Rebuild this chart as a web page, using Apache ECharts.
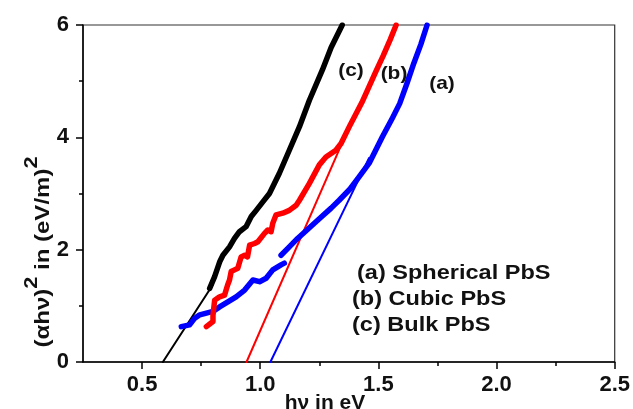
<!DOCTYPE html>
<html>
<head>
<meta charset="utf-8">
<script src="https://cdn.jsdelivr.net/npm/echarts@6/dist/echarts.min.js"></script>
<style>
html,body{margin:0;padding:0;background:#fff;}
#chart{width:633px;height:409px;}
</style>
</head>
<body>
<div id="chart"></div>
<script>
// ---- data ----
const xMajorTicks = [0.5, 1.0, 1.5, 2.0, 2.5];
const xMinorTicks = [0.75, 1.25, 1.75, 2.25];

const bulkData = [[0.786,1.31],[0.807,1.52],[0.828,1.78],[0.842,1.90],[0.870,2.05],[0.891,2.20],[0.912,2.32],[0.940,2.41],[0.962,2.59],[0.983,2.70],[1.011,2.85],[1.039,3.00],[1.081,3.36],[1.123,3.77],[1.166,4.19],[1.208,4.66],[1.263,5.20],[1.300,5.60],[1.347,6.00]];
const cubicData = [[0.772,0.63],[0.800,0.72],[0.800,0.83],[0.807,1.10],[0.828,1.16],[0.849,1.19],[0.862,1.37],[0.870,1.46],[0.877,1.61],[0.891,1.64],[0.905,1.67],[0.919,1.87],[0.934,1.90],[0.946,1.87],[0.955,2.08],[0.976,2.11],[0.990,2.14],[1.018,2.29],[1.032,2.35],[1.046,2.32],[1.053,2.47],[1.067,2.62],[1.095,2.65],[1.123,2.70],[1.152,2.79],[1.166,2.88],[1.208,3.18],[1.250,3.51],[1.278,3.65],[1.320,3.77],[1.342,3.89],[1.377,4.19],[1.430,4.62],[1.460,4.90],[1.490,5.18],[1.520,5.45],[1.550,5.74],[1.575,6.00]];
const sphericalLow = [[0.666,0.63],[0.701,0.66],[0.723,0.78],[0.744,0.84],[0.772,0.87],[0.800,0.90],[0.828,0.98],[0.863,1.07],[0.898,1.16],[0.934,1.28],[0.969,1.46],[0.997,1.43],[1.025,1.49],[1.053,1.64],[1.088,1.73],[1.102,1.76]];
const sphericalHigh = [[1.088,1.90],[1.123,2.05],[1.158,2.20],[1.200,2.36],[1.250,2.55],[1.300,2.74],[1.334,2.88],[1.380,3.08],[1.419,3.30],[1.461,3.54],[1.517,4.01],[1.560,4.35],[1.590,4.60],[1.620,4.95],[1.650,5.32],[1.680,5.66],[1.706,6.00]];

const bulkFit = [[0.588,0],[0.800,1.38]];
const cubicFit = [[0.942,0],[1.360,4.03]];
const sphericalFit = [[1.043,0],[1.460,3.63]];

const BLACK = '#000000', RED = '#ff0000', BLUE = '#0000ff';
const FONT = 'Liberation Sans, Arial, sans-serif';

function line(data, color, width, z) {
  return {type:'line', data:data, showSymbol:false, symbol:'none', clip:true, z:z,
    lineStyle:{color:color, width:width, join:'round', cap:'round'}, itemStyle:{color:color}};
}

const chart = echarts.init(document.getElementById('chart'), null, {renderer:'canvas'});
chart.setOption({
  animation:false,
  backgroundColor:'#fff',
  grid:{left:83, top:25, right:17, bottom:47, show:true, borderColor:'#333', borderWidth:1.2},
  xAxis:[{
    type:'value', min:0.25, max:2.5,
    axisLine:{show:true, lineStyle:{color:'#000', width:1.5}},
    axisTick:{show:true, customValues:xMajorTicks, length:7, lineStyle:{color:'#000', width:1.5}},
    axisLabel:{show:true, customValues:xMajorTicks, margin:12, fontSize:22, fontWeight:'bold', color:'#111', fontFamily:FONT,
      formatter:v => Number(v).toFixed(1)},
    splitLine:{show:false}
  },{
    type:'value', min:0.25, max:2.5, gridIndex:0, position:'bottom',
    axisLine:{show:false},
    axisTick:{show:true, customValues:xMinorTicks, length:4, lineStyle:{color:'#000', width:1.5}},
    axisLabel:{show:false},
    splitLine:{show:false}
  }],
  yAxis:{
    type:'value', min:0, max:6, interval:2,
    axisLine:{show:true, lineStyle:{color:'#000', width:1.5}},
    axisTick:{show:true, length:7, lineStyle:{color:'#000', width:1.5}},
    minorTick:{show:true, splitNumber:2, length:4, lineStyle:{color:'#000', width:1.5}},
    axisLabel:{margin:14, fontSize:22, fontWeight:'bold', color:'#111', fontFamily:FONT},
    splitLine:{show:false}
  },
  series:[
    line(bulkFit, BLACK, 2, 2),
    line(cubicFit, RED, 2, 2),
    line(sphericalFit, BLUE, 2, 2),
    line(sphericalLow, BLUE, 5.5, 3),
    line(sphericalHigh, BLUE, 5.5, 3),
    line(cubicData, RED, 5.5, 4),
    line(bulkData, BLACK, 5.5, 5)
  ],
  graphic:[
    {type:'text', x:38, y:252, rotation:Math.PI/2, scaleX:1.2, z:10,
      style:{text:'{m|(αhν)}{s|2}{m| in (eV/m)}{s|2}', align:'center', verticalAlign:'middle',
        rich:{m:{fontSize:20, fontWeight:'bold', fontFamily:FONT, fill:'#111', lineHeight:30, verticalAlign:'bottom'},
              s:{fontSize:18, fontWeight:'bold', fontFamily:FONT, fill:'#111', lineHeight:16, verticalAlign:'top'}}}},
    {type:'text', x:325, y:403, z:10, style:{text:'hν in eV', align:'center', verticalAlign:'middle', fontSize:21, fontWeight:'bold', fontFamily:FONT, fill:'#111'}},
    {type:'text', x:351, y:71, z:10, scaleX:1.1, style:{text:'(c)', align:'center', verticalAlign:'middle', fontSize:19, fontWeight:'bold', fontFamily:FONT, fill:'#111'}},
    {type:'text', x:394, y:74, z:10, scaleX:1.1, style:{text:'(b)', align:'center', verticalAlign:'middle', fontSize:19, fontWeight:'bold', fontFamily:FONT, fill:'#111'}},
    {type:'text', x:442, y:84, z:10, scaleX:1.1, style:{text:'(a)', align:'center', verticalAlign:'middle', fontSize:19, fontWeight:'bold', fontFamily:FONT, fill:'#111'}},
    {type:'text', x:357, y:273, z:10, scaleX:1.12, style:{text:'(a) Spherical PbS', align:'left', verticalAlign:'middle', fontSize:21, fontWeight:'bold', fontFamily:FONT, fill:'#111'}},
    {type:'text', x:352, y:299, z:10, scaleX:1.12, style:{text:'(b) Cubic PbS', align:'left', verticalAlign:'middle', fontSize:21, fontWeight:'bold', fontFamily:FONT, fill:'#111'}},
    {type:'text', x:352, y:325, z:10, scaleX:1.12, style:{text:'(c) Bulk PbS', align:'left', verticalAlign:'middle', fontSize:21, fontWeight:'bold', fontFamily:FONT, fill:'#111'}}
  ]
});
</script>
</body>
</html>
